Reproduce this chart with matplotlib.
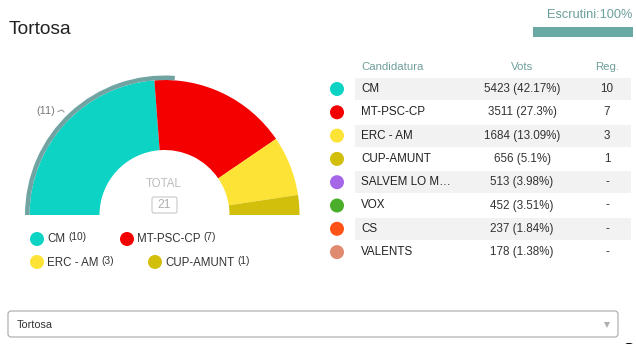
import matplotlib.pyplot as plt
from matplotlib.patches import Wedge, Circle, Rectangle, FancyBboxPatch

plt.rcParams['font.family'] = ['Liberation Sans', 'DejaVu Sans']

# data
municipality = 'Tortosa'
parties = ['CM', 'MT-PSC-CP', 'ERC - AM', 'CUP-AMUNT', 'SALVEM LO M…', 'VOX', 'CS', 'VALENTS']
votes = [5423, 3511, 1684, 656, 513, 452, 237, 178]
pcts = ['42.17', '27.3', '13.09', '5.1', '3.98', '3.51', '1.84', '1.38']
seats = [10, 7, 3, 1, 0, 0, 0, 0]
colors = ['#0dd3c5', '#f40000', '#fde335', '#d2bf0c', '#a567e8', '#4aae2a', '#ff5214', '#e08a70']
prev_seats_cm = 11
total_seats = 21
scrutiny = 100

fig = plt.figure(figsize=(6.36, 3.44), dpi=100)
ax = fig.add_axes([0, 0, 1, 1])
ax.set_xlim(0, 636)
ax.set_ylim(344, 0)
ax.axis('off')

# title + scrutiny bar
ax.text(9, 30, municipality, fontsize=13.8, color='#222222', va='center')
ax.text(632, 15, f'Escrutini:{scrutiny}%', fontsize=9.2, color='#6a9e9a', ha='right', va='center')
ax.add_patch(Rectangle((533, 27), 100 * scrutiny / 100, 10, color='#68aaa3', lw=0))

# hemicycle
cx, cy, R, r = 164.5, 215, 135, 65
start = 180
for s, c in zip(seats, colors):
    if s == 0:
        continue
    span = s / total_seats * 180
    ax.add_patch(Wedge((cx, cy), R, start, start + span, width=R - r, color=c, lw=0))
    start += span

# previous result ring for CM
ax.add_patch(Wedge((cx, cy), R + 4.5, 180, 180 + prev_seats_cm / total_seats * 180,
                   width=4.5, color='#72a3a3', lw=0))
ax.text(55, 111, f'({prev_seats_cm})', fontsize=7.8, color='#777777', ha='right', va='center')
ax.plot([58, 62, 64], [111.5, 110, 112], color='#999999', lw=0.8)

ax.text(cx - 1, 184, 'TOTAL', fontsize=8.3, color='#bdbdbd', ha='center', va='center')
ax.add_patch(FancyBboxPatch((152, 197), 25, 16, boxstyle='round,pad=0,rounding_size=2',
                            fc='white', ec='#c8c8c8', lw=0.8))
ax.text(cx, 205.5, str(total_seats), fontsize=8.8, color='#b0b0b0', ha='center', va='center')

# legend under the hemicycle
leg_pos = [(37, 239), (127, 239), (37, 262), (155, 262)]
fig.canvas.draw()
renderer = fig.canvas.get_renderer()
for (x, y), name, s, c in zip(leg_pos, parties, seats, colors):
    ax.add_patch(Circle((x, y), 7, color=c, lw=0))
    t = ax.text(x + 10, y + 0.5, name, fontsize=8.3, color='#333333', va='center')
    bb = t.get_window_extent(renderer)
    ax.text(bb.x1 + 3, y - 1.5, f'({s})', fontsize=7.3, color='#333333', va='center')

# results table
ax.text(361, 67, 'Candidatura', fontsize=8.2, color='#6f9f9c', va='center')
ax.text(522, 67, 'Vots', fontsize=8.2, color='#6f9f9c', ha='center', va='center')
ax.text(607, 67, 'Reg.', fontsize=8.2, color='#6f9f9c', ha='center', va='center')
for i, (name, v, p, s, c) in enumerate(zip(parties, votes, pcts, seats, colors)):
    y = 89 + i * 23.3
    if i % 2 == 0:
        ax.add_patch(Rectangle((355, y - 11), 276, 22, color='#f2f2f2', lw=0))
    ax.add_patch(Circle((337, y), 7, color=c, lw=0))
    ax.text(361, y, name, fontsize=8.4, color='#222222', va='center')
    ax.text(522, y, f'{v} ({p}%)', fontsize=8.4, color='#333333', ha='center', va='center')
    ax.text(607, y, str(s) if s > 0 else '-', fontsize=8.4, color='#333333', ha='center', va='center')

# selector
ax.add_patch(FancyBboxPatch((8, 311), 610, 26, boxstyle='round,pad=0,rounding_size=3',
                            fc='white', ec='#a8a8a8', lw=0.8))
ax.text(17, 325, municipality, fontsize=7.8, color='#333333', va='center')
ax.plot(607, 325, marker='v', ms=5, color='#b0b0b0', mew=0)
ax.add_patch(Circle((629, 352), 9, color='black', lw=0))

fig.savefig('out.png', dpi=100)
